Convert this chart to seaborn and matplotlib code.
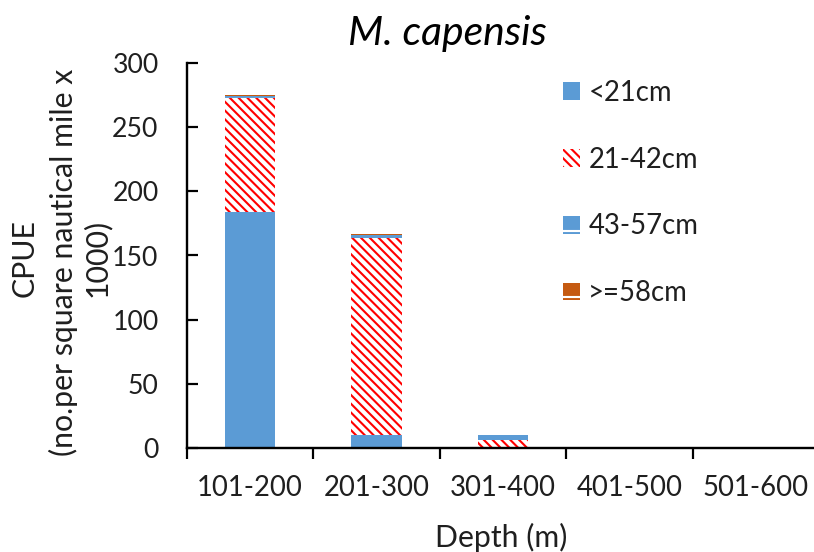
import numpy as np
import pandas as pd
import matplotlib
matplotlib.use("Agg")
import matplotlib.pyplot as plt
from matplotlib.patches import Patch
import seaborn as sns

# CPUE by depth band and length class
depths = ["101-200", "201-300", "301-400", "401-500", "501-600"]
lt21 = [184.0, 10.0, 0.3, 0.0, 0.0]
c21_42 = [88.5, 153.5, 6.0, 0.0, 0.0]
c43_57 = [1.5, 2.5, 3.5, 0.0, 0.0]
ge58 = [0.8, 0.7, 0.6, 0.0, 0.0]

classes = ["<21cm", "21-42cm", "43-57cm", ">=58cm"]
values = [lt21, c21_42, c43_57, ge58]

BLUE = "#5B9BD5"
RED = "#FF0000"
ORANGE = "#C55A11"
TXT = "#1f1f1f"

styles = [
    dict(facecolor=BLUE, edgecolor=BLUE, hatch=None),
    dict(facecolor="white", edgecolor=RED, hatch="\\" * 5),
    dict(facecolor=BLUE, edgecolor="white", hatch="-"),
    dict(facecolor=ORANGE, edgecolor="white", hatch="-"),
]

sns.set_style("white")
plt.rcParams["font.family"] = ["Lato", "DejaVu Sans"]
plt.rcParams["hatch.linewidth"] = 1.15

DPI = 132
fig = plt.figure(figsize=(814 / DPI, 552 / DPI), dpi=DPI)
ax = fig.add_axes([187 / 814, 1 - 448 / 552, (819 - 187) / 814, (448 - 63) / 552])

# Stacked bars: draw cumulative totals from the top class down,
# each opaque layer covering the one below it
cum = np.cumsum(np.array(values), axis=0)
for k in range(len(classes) - 1, -1, -1):
    st = styles[k]
    df = pd.DataFrame({"Depth": depths, "CPUE": cum[k]})
    sns.barplot(data=df, x="Depth", y="CPUE", order=depths, ax=ax,
                width=0.4, errorbar=None,
                facecolor=st["facecolor"], edgecolor=st["edgecolor"],
                hatch=st["hatch"], linewidth=0)

ax.set_xlim(-0.5, 4.5)
ax.set_ylim(0, 300)
ax.set_yticks(np.arange(0, 301, 50))

for s in ["top", "right"]:
    ax.spines[s].set_visible(False)
for s in ["left", "bottom"]:
    ax.spines[s].set_color("black")
    ax.spines[s].set_linewidth(1.3)

# y ticks point inward, x ticks outward at category boundaries
ax.tick_params(axis="y", direction="in", length=6, width=1.2, color="black",
               labelsize=14.5, labelcolor=TXT, pad=15.5, left=True)
ax.set_xticks(np.arange(-0.5, 4.51, 1.0), minor=True)
ax.tick_params(axis="x", which="major", length=0, labelsize=15,
               labelcolor=TXT, pad=14.5)
ax.tick_params(axis="x", which="minor", direction="out", length=6,
               width=1.2, color="black", bottom=True)

ax.set_xlabel("")
ax.set_ylabel("")
fig.text(501 / 814, 1 - 537 / 552, "Depth (m)", ha="center", va="center",
         fontsize=16.5, color=TXT)
fig.text(25 / 814, 1 - 258 / 552, "CPUE", rotation=90, ha="center",
         va="center", fontsize=16.5, color=TXT)
fig.text(63 / 814, 1 - 262 / 552, "(no.per square nautical mile x",
         rotation=90, ha="center", va="center", fontsize=16.5, color=TXT)
fig.text(97 / 814, 1 - 258 / 552, "1000)", rotation=90, ha="center",
         va="center", fontsize=16.5, color=TXT)

fig.text(447 / 814, 1 - 33 / 552, "M. capensis", ha="center", va="center",
         fontsize=22.3, style="italic", color="black")

handles = [Patch(facecolor=st["facecolor"], edgecolor=st["edgecolor"],
                 hatch=st["hatch"], linewidth=0) for st in styles]
fig.legend(handles, classes, loc="upper left",
           bbox_to_anchor=(563 / 814, 1 - 80 / 552), frameon=False,
           fontsize=15, labelcolor=TXT, borderpad=0, borderaxespad=0,
           handlelength=0.62, handleheight=0.62, handletextpad=0.3,
           labelspacing=1.48)

fig.savefig("out.png", dpi=DPI)
